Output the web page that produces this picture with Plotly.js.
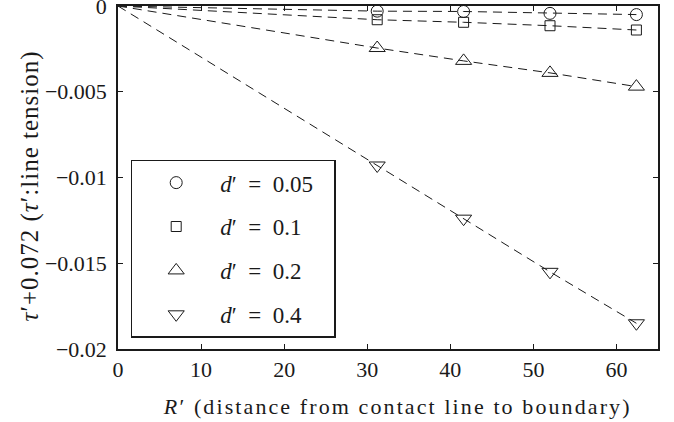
<!DOCTYPE html>
<html>
<head>
<meta charset="utf-8">
<script src="https://cdn.plot.ly/plotly-3.0.1.min.js"></script>
<style>
  html, body { margin: 0; padding: 0; background: #fff; }
  #plotArea { width: 674px; height: 422px; }
  #plotArea g.annotation[data-index="0"] text { letter-spacing: 2.1px; }
  #plotArea g.annotation[data-index="1"] text { letter-spacing: 1px; }
</style>
</head>
<body>
<div id="plotArea"></div>
<script>
// R' values (distance from contact line to boundary)
var rPrime = [31.2, 41.6, 52.0, 62.4];

// tau' + 0.072 for each d'
var d005 = [-0.0003, -0.00032, -0.00043, -0.0005];
var d01 = [-0.0008, -0.00095, -0.00115, -0.0014];
var d02 = [-0.00245, -0.0032, -0.0039, -0.0047];
var d04 = [-0.0093, -0.0124, -0.0155, -0.0185];

var seriesNames = ["<i>d</i>\u2032\u2002=\u20020.05\u2002\u2009", "<i>d</i>\u2032\u2002=\u20020.1", "<i>d</i>\u2032\u2002=\u20020.2", "<i>d</i>\u2032\u2002=\u20020.4"];
var symbols = ["circle-open", "square-open", "triangle-up-open", "triangle-down-open"];
var markerSizes = [12, 10, 14, 14];

var xTickVals = [0, 10, 20, 30, 40, 50, 60];
var yTickVals = [0, -0.005, -0.01, -0.015, -0.02];
var yTickText = ["0", "\u22120.005", "\u22120.01", "\u22120.015", "\u22120.02"];

var xTitle = "<i>R</i>\u2032 (distance from contact line to boundary)";
var yTitle = "<i>\u03c4</i>\u2032+0.072 (<i>\u03c4</i>\u2032:line tension)";

var allSeries = [d005, d01, d02, d04];
var data = [];

// dashed lines start from the origin
allSeries.forEach(function(ys, i) {
    data.push({
        x: [0].concat(rPrime),
        y: [0].concat(ys),
        mode: "lines",
        type: "scatter",
        line: {color: "#1a1a1a", width: 1, dash: "9px,6px"},
        showlegend: false,
        hoverinfo: "skip"
    });
});

allSeries.forEach(function(ys, i) {
    data.push({
        x: rPrime,
        y: ys,
        mode: "markers",
        type: "scatter",
        name: seriesNames[i],
        legendgroup: "g" + i,
        marker: {symbol: symbols[i], size: markerSizes[i], color: "#1a1a1a", line: {width: 1, color: "#1a1a1a"}},
        cliponaxis: false
    });
});

var serif = "Liberation Serif";

var layout = {
    width: 674,
    height: 422,
    margin: {l: 118, r: 16, t: 6, b: 73},
    paper_bgcolor: "#fff",
    plot_bgcolor: "#fff",
    showlegend: true,
    font: {family: serif, size: 22, color: "#1a1a1a"},
    xaxis: {
        range: [0, 65],
        tickmode: "array",
        tickvals: xTickVals,
        ticks: "inside",
        ticklen: 5,
        tickcolor: "#1a1a1a",
        showline: true,
        linecolor: "#1a1a1a",
        linewidth: 1.5,
        mirror: "ticks",
        showgrid: false,
        zeroline: false,
        tickfont: {family: serif, size: 22, color: "#1a1a1a"},
        ticklabeloverflow: "allow"
    },
    yaxis: {
        range: [-0.02, 0],
        tickmode: "array",
        tickvals: yTickVals,
        ticktext: yTickText,
        ticks: "inside",
        ticklen: 5,
        tickcolor: "#1a1a1a",
        showline: true,
        linecolor: "#1a1a1a",
        linewidth: 1.5,
        mirror: "ticks",
        showgrid: false,
        zeroline: false,
        tickfont: {family: serif, size: 22, color: "#1a1a1a"},
        ticklabeloverflow: "allow",
        ticklabelstandoff: 5
    },
    // axis titles as annotations so they sit where the original ones are
    annotations: [
        {
            text: xTitle, xref: "paper", yref: "paper", x: 0.5167, y: 0,
            xanchor: "center", yanchor: "top", yshift: -43, showarrow: false,
            font: {family: serif, size: 22, color: "#1a1a1a"}
        },
        {
            text: yTitle, xref: "paper", yref: "paper", x: 0, y: 0.4738,
            xanchor: "center", yanchor: "middle", xshift: -88, textangle: -90, showarrow: false,
            font: {family: serif, size: 25, color: "#1a1a1a"}
        }
    ],
    legend: {
        x: 0.0235,
        y: 0.552,
        xanchor: "left",
        yanchor: "top",
        bgcolor: "#fff",
        bordercolor: "#1a1a1a",
        borderwidth: 1.5,
        font: {family: serif, size: 23, color: "#1a1a1a"},
        traceorder: "grouped",
        tracegroupgap: 11,
        itemwidth: 78
    }
};

Plotly.newPlot("plotArea", data, layout, {displayModeBar: false});
</script>
</body>
</html>
